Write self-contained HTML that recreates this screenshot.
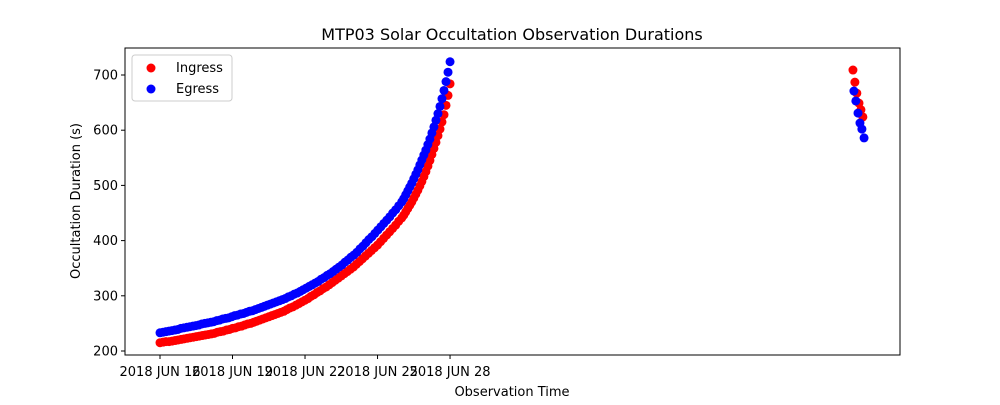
<!DOCTYPE html>
<html><head><meta charset="utf-8"><style>
html,body{margin:0;padding:0;background:#fff;}
svg text{font-family:"DejaVu Sans","Liberation Sans",sans-serif;fill:#000;}
</style></head><body>
<svg id="chart" width="1000" height="400" xmlns="http://www.w3.org/2000/svg">
<rect x="0" y="0" width="1000" height="400" fill="#fff"/>
<text x="512" y="40" font-size="16" text-anchor="middle">MTP03 Solar Occultation Observation Durations</text>
<g id="marks"></g>
<rect x="125" y="48" width="775" height="307" fill="none" stroke="#000" stroke-width="1"/>
<g id="axes"></g>
<text x="512" y="396" font-size="13" text-anchor="middle">Observation Time</text>
<text transform="translate(80,201) rotate(-90)" font-size="13" text-anchor="middle">Occultation Duration (s)</text>
<g>
<rect x="132" y="55" width="100" height="46" rx="3" fill="#fff" stroke="#ccc"/>
<circle cx="151" cy="68" r="4.5" fill="#ff0000"/>
<text x="176" y="72" font-size="13">Ingress</text>
<circle cx="151" cy="89" r="4.5" fill="#0000ff"/>
<text x="176" y="93" font-size="13">Egress</text>
</g>
</svg>
<script>
const ingressEarly = [215,216,217,217,218,219,220,221,222,223,224,225,226,227,228,229,230,231,232,234,235,236,238,239,241,242,244,245,247,249,250,252,254,256,258,260,262,264,266,268,270,272,275,278,280,283,286,289,292,295,299,302,306,309,313,316,320,324,328,332,336,340,344,348,352,357,362,367,372,377,382,387,392,398,404,410,416,422,428,435,441];
const ingressLate = [446,452,458,464,470,477,484,491,499,507,516,525,535,545,556,567,578,590,602,615,628,645,663,684];
const egressEarly = [233,234,235,236,237,238,239,241,242,243,244,245,246,247,249,250,251,252,253,255,256,258,259,260,262,264,265,267,268,270,272,273,275,277,279,281,283,285,287,289,291,293,295,298,300,303,305,308,311,314,317,320,323,326,330,333,337,340,344,348,352,356,361,365,370,374,379,385,390,396,402,407,413,419,425,431,437,443,450,456,463,470];
const egressLate = [476,483,490,497,504,512,520,528,537,546,555,564,574,584,595,606,618,630,643,657,672,688,705,724];
const ingressLaterTimes = [28.67,28.75,28.83,28.92,29.0,29.08];
const ingressLaterValues = [709,687,667,649,637,624];
const egressLaterTimes = [28.71,28.79,28.88,28.96,29.04,29.13];
const egressLaterValues = [671,653,631,613,602,586];
const yTicks = [200,300,400,500,600,700];
const xTickDays = [0,3,6,9,12];
const xTickLabels = ["2018 JUN 16","2018 JUN 19","2018 JUN 22","2018 JUN 25","2018 JUN 28"];

const NS="http://www.w3.org/2000/svg";
function xs(d){return 160 + d*24.17;}
function ys(v){return 351 - (v-200)*0.552;}
function buildTimes(early, late){
  const t=[];
  for(let i=0;i<early.length;i++) t.push(i*10/(early.length-1));
  for(let i=0;i<late.length;i++) t.push(10+(i+1)*2/late.length);
  return t;
}
const marks=document.getElementById('marks');
function plot(times, vals, color, name){
  for(let i=0;i<vals.length;i++){
    const c=document.createElementNS(NS,'circle');
    c.setAttribute('cx',xs(times[i]));c.setAttribute('cy',ys(vals[i]));
    c.setAttribute('r',4.5);c.setAttribute('fill',color);
    
    
    marks.appendChild(c);
  }
}
plot(buildTimes(ingressEarly,ingressLate), ingressEarly.concat(ingressLate), '#ff0000', 'ingress-point');
plot(ingressLaterTimes, ingressLaterValues, '#ff0000', 'ingress-point');
plot(buildTimes(egressEarly,egressLate), egressEarly.concat(egressLate), '#0000ff', 'egress-point');
plot(egressLaterTimes, egressLaterValues, '#0000ff', 'egress-point');

const axes=document.getElementById('axes');
yTicks.forEach(v=>{
  const y=ys(v);
  const l=document.createElementNS(NS,'line');
  l.setAttribute('x1',121);l.setAttribute('x2',125);l.setAttribute('y1',y);l.setAttribute('y2',y);l.setAttribute('stroke','#000');
  
  
  axes.appendChild(l);
  const t=document.createElementNS(NS,'text');
  t.setAttribute('x',118);t.setAttribute('y',y+4.5);t.setAttribute('font-size',13);t.setAttribute('text-anchor','end');
  t.textContent=v;
  
  
  axes.appendChild(t);
});
xTickDays.forEach((d,i)=>{
  const x=xs(d);
  const l=document.createElementNS(NS,'line');
  l.setAttribute('x1',x);l.setAttribute('x2',x);l.setAttribute('y1',355);l.setAttribute('y2',359);l.setAttribute('stroke','#000');
  
  
  axes.appendChild(l);
  const t=document.createElementNS(NS,'text');
  t.setAttribute('x',x);t.setAttribute('y',376);t.setAttribute('font-size',13);t.setAttribute('text-anchor','middle');
  t.textContent=xTickLabels[i];
  
  
  axes.appendChild(t);
});
</script>
</body></html>
